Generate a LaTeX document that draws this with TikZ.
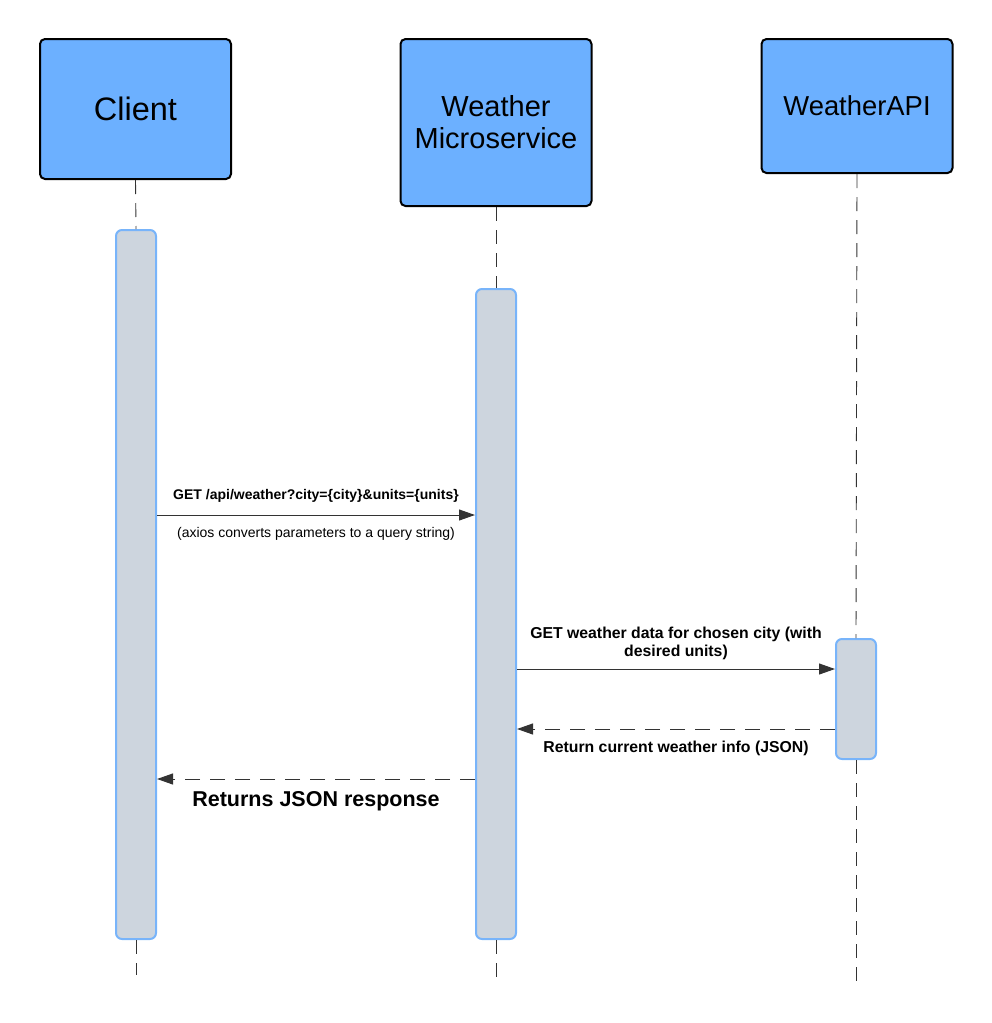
\documentclass[tikz,border=0pt]{standalone}
\usepackage{fontspec}
\setmainfont{Liberation Sans}
\usepackage{tikz}
\usetikzlibrary{arrows.meta,calc,positioning}
\definecolor{actorblue}{HTML}{6CB0FF}
\definecolor{barfill}{HTML}{CDD5DE}
\definecolor{barline}{HTML}{78B4FA}
\definecolor{ink}{HTML}{333333}
\tikzstyle{actor} = [rectangle, rounded corners=5pt, draw=black, line width=2pt, fill=actorblue, align=center, minimum width=191pt]
\tikzstyle{bar} = [rectangle, rounded corners=6pt, draw=barline, line width=2pt, fill=barfill, minimum width=40pt]
\tikzstyle{life} = [draw=ink, line width=0.9pt, dash pattern=on 14pt off 9pt]
\tikzstyle{call} = [draw=ink, line width=1pt, -{Triangle[length=16pt,width=11pt]}]
\tikzstyle{reply} = [call, dash pattern=on 15pt off 10pt]
\tikzstyle{lbl} = [font={\bfseries\fontsize{14}{18}\selectfont}, align=center]
\tikzstyle{biglbl} = [lbl, font={\bfseries\fontsize{15.8}{18}\selectfont}]
\tikzstyle{note} = [font={\fontsize{14}{16}\selectfont}]

\begin{document}
\begin{tikzpicture}[x=1pt, y=-1pt, auto]
      \useasboundingbox (0,0) rectangle (992,1023);
      % participants
      \node [actor, minimum height=140pt, font={\fontsize{32.5}{36}\selectfont}] at (135.5,109) (client) {Client};
      \node [actor, minimum height=167pt, font={\fontsize{29}{32}\selectfont}] at (496,122.5) (service)
        {Weather\\Microservice};
      \node [actor, minimum height=134pt, font={\fontsize{27.4}{31}\selectfont}] at (857,106) (api) {WeatherAPI};
      % activations
      \node [bar, minimum height=709pt] at (136,584.5) (cbar) {};
      \node [bar, minimum height=650pt] at (496,614) (sbar) {};
      \node [bar, minimum height=120pt] at (856,699) (abar) {};
      \coordinate (cend) at (136,975);
      \coordinate (send) at (496,983);
      \coordinate (aend) at (856,983);
      \path [life] (client.south) -- (cbar.north);
      \path [life] (cbar.south) -- (cend);
      \path [life] (service.south) -- (sbar.north);
      \path [life] (sbar.south) -- (send);
      \path [life] (api.south) -- (abar.north);
      \path [life] (abar.south) -- (aend);
      % messages
      \coordinate (m1) at (0,515);
      \coordinate (m2) at (0,669);
      \coordinate (m3) at (0,729);
      \coordinate (m4) at (0,779);
      \path [call] (cbar.east |- m1) --
        node [lbl, above=8.5pt] {GET /api/weather?city=\{city\}\&units=\{units\}}
        node [note, below=9pt] {(axios converts parameters to a query string)}
        (sbar.west |- m1);
      \path [call] (sbar.east |- m2) --
        node [biglbl, above=5pt] {GET weather data for chosen city (with\\desired units)}
        (abar.west |- m2);
      \path [reply] (abar.west |- m3) --
        node [biglbl, below=8.5pt] {Return current weather info (JSON)}
        (sbar.east |- m3);
      \path [reply] (sbar.west |- m4) --
        node [lbl, below=8.5pt, font={\bfseries\fontsize{21.5}{24}\selectfont}] {Returns JSON response}
        (cbar.east |- m4);
    \end{tikzpicture}
\end{document}
